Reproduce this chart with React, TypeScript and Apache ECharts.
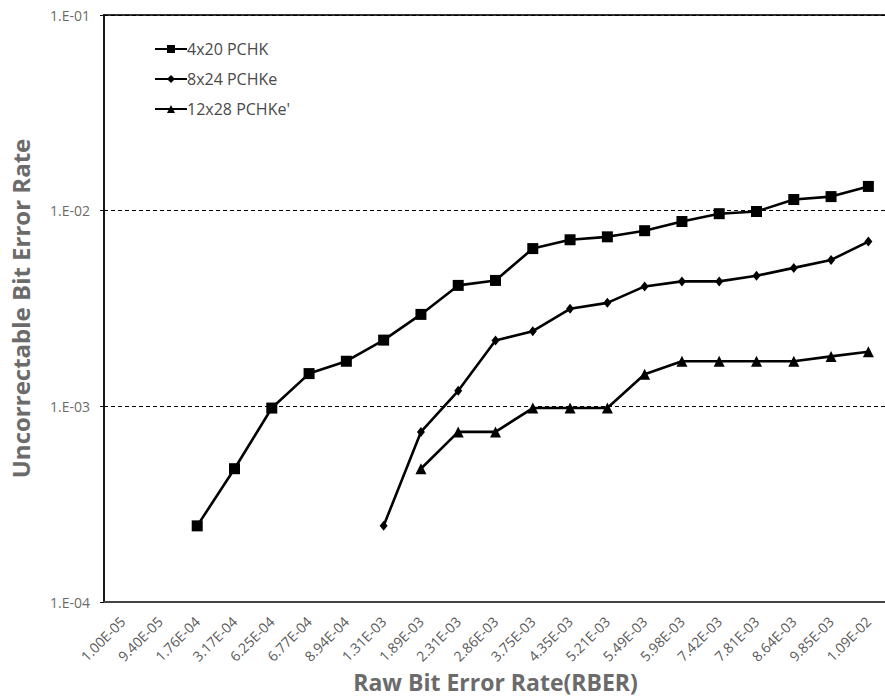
import React, { useEffect, useRef } from "react";
import * as echarts from "echarts";

const categories = [
  "1.00E-05", "9.40E-05", "1.76E-04", "3.17E-04", "6.25E-04", "6.77E-04", "8.94E-04",
  "1.31E-03", "1.89E-03", "2.31E-03", "2.86E-03", "3.75E-03", "4.35E-03", "5.21E-03",
  "5.49E-03", "5.98E-03", "7.42E-03", "7.81E-03", "8.64E-03", "9.85E-03", "1.09E-02",
];

const pchk4x20 = [
  null, null, 2.45e-4, 4.8e-4, 9.8e-4, 1.47e-3, 1.7e-3, 2.18e-3, 2.95e-3, 4.15e-3, 4.4e-3,
  6.4e-3, 7.1e-3, 7.35e-3, 7.9e-3, 8.8e-3, 9.65e-3, 9.9e-3, 1.14e-2, 1.18e-2, 1.33e-2,
];

const pchke8x24 = [
  null, null, null, null, null, null, null, 2.45e-4, 7.4e-4, 1.2e-3, 2.17e-3, 2.42e-3,
  3.15e-3, 3.38e-3, 4.1e-3, 4.35e-3, 4.35e-3, 4.65e-3, 5.1e-3, 5.6e-3, 6.95e-3,
];

const pchke12x28 = [
  null, null, null, null, null, null, null, null, 4.8e-4, 7.4e-4, 7.4e-4, 9.8e-4,
  9.8e-4, 9.8e-4, 1.46e-3, 1.7e-3, 1.7e-3, 1.7e-3, 1.7e-3, 1.8e-3, 1.9e-3,
];

const seriesNames = ["4x20 PCHK", "8x24 PCHKe", "12x28 PCHKe'"];

const FONT = "'Open Sans', 'Noto Sans', sans-serif";

export default function App() {
  const ref = useRef<HTMLDivElement>(null);
  useEffect(() => {
    if (!ref.current) return;
    const chart = echarts.init(ref.current, undefined, { renderer: "svg" });
    const lineStyle = { color: "#000", width: 2.6 };
    chart.setOption({
      animation: false,
      backgroundColor: "#fff",
      textStyle: { fontFamily: FONT },
      grid: {
        left: 104,
        right: -2,
        top: 15,
        bottom: 97,
        show: true,
        borderColor: "#333",
        borderWidth: 2,
        backgroundColor: "transparent",
        containLabel: false,
        outerBoundsMode: "none",
      },
      legend: {
        orient: "vertical",
        left: 149,
        top: 36,
        itemWidth: 32,
        itemHeight: 10,
        itemGap: 14,
        textStyle: { fontSize: 16, color: "#4a4a4a", fontFamily: FONT, padding: [0, 0, 0, -5] },
        data: seriesNames,
      },
      xAxis: {
        type: "category",
        data: categories,
        boundaryGap: true,
        axisLine: { show: true, lineStyle: { color: "#444", width: 2 } },
        axisTick: { show: false },
        axisLabel: {
          rotate: 45,
          interval: 0,
          fontSize: 14,
          color: "#595959",
          margin: 17,
          fontFamily: FONT,
        },
        name: "Raw Bit Error Rate(RBER)",
        nameLocation: "middle",
        nameGap: 68,
        nameTextStyle: { fontSize: 23, fontWeight: "bold", color: "#6b6b6b", fontFamily: FONT },
      },
      yAxis: {
        type: "log",
        logBase: 10,
        min: 1e-4,
        max: 1e-1,
        axisLine: { show: true, lineStyle: { color: "#111", width: 1.5 } },
        axisTick: { show: true, length: 4, lineStyle: { color: "#111" } },
        splitLine: { show: true, lineStyle: { color: "#000", type: [4, 3], width: 1 } },
        axisLabel: {
          fontSize: 14,
          color: "#6b6b6b",
          margin: 14,
          fontFamily: FONT,
          formatter: (v: number) => {
            const e = Math.round(Math.log10(v));
            const a = Math.abs(e);
            return "1.E" + (e < 0 ? "-" : "+") + (a < 10 ? "0" + a : "" + a);
          },
        },
        name: "Uncorrectable Bit Error Rate",
        nameLocation: "middle",
        nameGap: 72,
        nameTextStyle: { fontSize: 24, fontWeight: "bold", color: "#6b6b6b", fontFamily: FONT },
      },
      series: [
        {
          name: seriesNames[0],
          type: "line",
          data: pchk4x20,
          symbol: "rect",
          symbolSize: 11,
          itemStyle: { color: "#000" },
          lineStyle,
        },
        {
          name: seriesNames[1],
          type: "line",
          data: pchke8x24,
          symbol: "diamond",
          symbolSize: [8, 10],
          itemStyle: { color: "#000" },
          lineStyle,
        },
        {
          name: seriesNames[2],
          type: "line",
          data: pchke12x28,
          symbol: "triangle",
          symbolSize: 11,
          itemStyle: { color: "#000" },
          lineStyle,
        },
      ],
    });
    return () => chart.dispose();
  }, []);
  return <div ref={ref} style={{ width: 885, height: 699, position: "absolute", left: 0, top: 0 }} />;
}
